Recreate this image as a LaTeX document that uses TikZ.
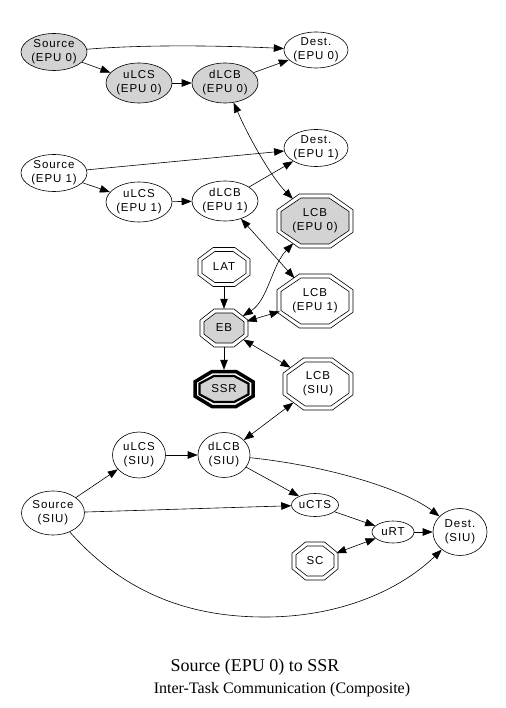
\documentclass[tikz,border=0pt]{standalone}
\usepackage{fontspec}
\setmainfont{Liberation Serif}
\newfontfamily\nodefont[LetterSpace=8]{Liberation Sans}
\usetikzlibrary{shapes.geometric,arrows.meta}
\definecolor{lgray}{RGB}{211,211,211}
\newcommand\octline[5]{\draw[#5] ({#1+(#3)},{#2+0.414*(#4)}) -- ({#1+0.414*(#3)},{#2+(#4)}) -- ({#1-0.414*(#3)},{#2+(#4)}) -- ({#1-(#3)},{#2+0.414*(#4)}) -- ({#1-(#3)},{#2-0.414*(#4)}) -- ({#1-0.414*(#3)},{#2-(#4)}) -- ({#1+0.414*(#3)},{#2-(#4)}) -- ({#1+(#3)},{#2-0.414*(#4)}) -- cycle;}
\newcommand\octnode[7]{%
  \octline{#2}{#3}{#4}{#5}{octl}
  \octline{#2}{#3}{#4-4}{#5-4}{octl,#7}
  \node[ghost, minimum width={2*(#4)}, minimum height={2*(#5)}, label={[lbl]center:#6}] (#1) at (#2,#3) {};}
\tikzset{
  lbl/.style={font=\fontsize{11.5}{14}\selectfont\nodefont, align=center, inner sep=0pt},
  ell/.style={ellipse, draw, line width=0.6pt, inner sep=0pt},
  ghost/.style={ellipse, draw=none, inner sep=0pt},
  octl/.style={line width=0.6pt},
  conn/.style={draw, line width=0.6pt, -{Triangle[length=10pt,width=7.5pt]}},
  biconn/.style={draw, line width=0.6pt, {Triangle[length=10pt,width=7.5pt]}-{Triangle[length=10pt,width=7.5pt]}},
}
\begin{document}
\begin{tikzpicture}[x=1pt,y=-1pt]
\useasboundingbox (0,0) rectangle (505,708);
% ellipse nodes
\node[ell, fill=lgray, minimum width=66pt, minimum height=37pt, label={[lbl]center:Source\\(EPU 0)}] (S0) at (54,52) {};
\node[ell, minimum width=64pt, minimum height=36pt, label={[lbl]center:Dest.\\(EPU 0)}] (D0) at (316,50) {};
\node[ell, fill=lgray, minimum width=66pt, minimum height=40pt, label={[lbl]center:uLCS\\(EPU 0)}] (U0) at (139,83) {};
\node[ell, fill=lgray, minimum width=66pt, minimum height=40pt, label={[lbl]center:dLCB\\(EPU 0)}] (L0) at (225,83) {};
\node[ell, minimum width=66pt, minimum height=37pt, label={[lbl]center:Source\\(EPU 1)}] (S1) at (54,173) {};
\node[ell, minimum width=64pt, minimum height=37pt, label={[lbl]center:Dest.\\(EPU 1)}] (D1) at (316,148) {};
\node[ell, minimum width=66pt, minimum height=40pt, label={[lbl]center:uLCS\\(EPU 1)}] (U1) at (139,202) {};
\node[ell, minimum width=66pt, minimum height=40pt, label={[lbl]center:dLCB\\(EPU 1)}] (L1) at (225,201) {};
\node[ell, minimum width=53pt, minimum height=46pt, label={[lbl]center:uLCS\\(SIU)}] (US) at (139,455) {};
\node[ell, minimum width=52pt, minimum height=45pt, label={[lbl]center:dLCB\\(SIU)}] (LS) at (224,455) {};
\node[ell, minimum width=63pt, minimum height=44pt, label={[lbl]center:Source\\(SIU)}] (SS) at (53,513) {};
\node[ell, minimum width=47pt, minimum height=23pt, label={[lbl]center:uCTS}] (CT) at (315,505) {};
\node[ell, minimum width=42pt, minimum height=22pt, label={[lbl]center:uRT}] (RT) at (393,532) {};
\node[ell, minimum width=54pt, minimum height=47pt, label={[lbl]center:Dest.\\(SIU)}] (DS) at (460,532) {};
% octagon nodes
\octnode{LC0}{315}{221}{38}{27}{LCB\\(EPU 0)}{fill=lgray}
\octnode{LAT}{224}{267}{26}{19.5}{LAT}{}
\octnode{EB}{224}{328}{24}{19}{EB}{fill=lgray}
\octnode{LC1}{315}{301}{38}{27}{LCB\\(EPU 1)}{}
\octnode{LCS}{318}{384}{35}{26}{LCB\\(SIU)}{}
\octnode{SC}{315}{561}{23}{19}{SC}{}
\octline{224}{389}{29}{17.5}{line width=3.5pt}
\octline{224}{389}{24.5}{13}{line width=2.2pt, fill=lgray}
\node[ghost, minimum width=62pt, minimum height=38pt, label={[lbl]center:SSR}] (SSR) at (224,389) {};
% connectors, EPU 0
\draw[conn] (S0) .. controls (150,44) and (230,46) .. (D0);
\draw[conn] (S0) -- (U0);
\draw[conn] (U0) -- (L0);
\draw[conn] (L0) -- (D0);
\draw[biconn] (L0) .. controls (250,140) and (272,178) .. (LC0);
% EPU 1
\draw[conn] (S1) -- (D1);
\draw[conn] (S1) -- (U1);
\draw[conn] (U1) -- (L1);
\draw[conn] (L1) -- (D1);
\draw[biconn] (L1) -- (LC1);
% EB cluster
\draw[biconn] (LC0) .. controls (272,265) and (268,300) .. (EB);
\draw[conn] (LAT) -- (EB);
\draw[biconn] (EB) -- (LC1);
\draw[conn] (EB) -- (SSR);
\draw[biconn] (EB) -- (LCS);
\draw[biconn] (LCS) -- (LS);
% SIU
\draw[conn] (SS) -- (US);
\draw[conn] (US) -- (LS);
\draw[conn] (LS) -- (CT);
\draw[conn] (LS) .. controls (330,466) and (405,490) .. (DS);
\draw[conn] (SS) -- (CT);
\draw[conn] (CT) -- (RT);
\draw[conn] (RT) -- (DS);
\draw[biconn] (SC) -- (RT);
\draw[conn] (SS) .. controls (130,600) and (200,617) .. (265,617) .. controls (340,617) and (400,590) .. (DS);
% caption
\node[font=\fontsize{18}{20}\selectfont, anchor=base, inner sep=0pt] (cap1) at (255,671.5) {Source (EPU 0) to SSR};
\node[font=\fontsize{16}{20}\selectfont, anchor=base, inner sep=0pt] (cap2) at (282,693) {Inter-Task Communication (Composite)};
\end{tikzpicture}
\end{document}
